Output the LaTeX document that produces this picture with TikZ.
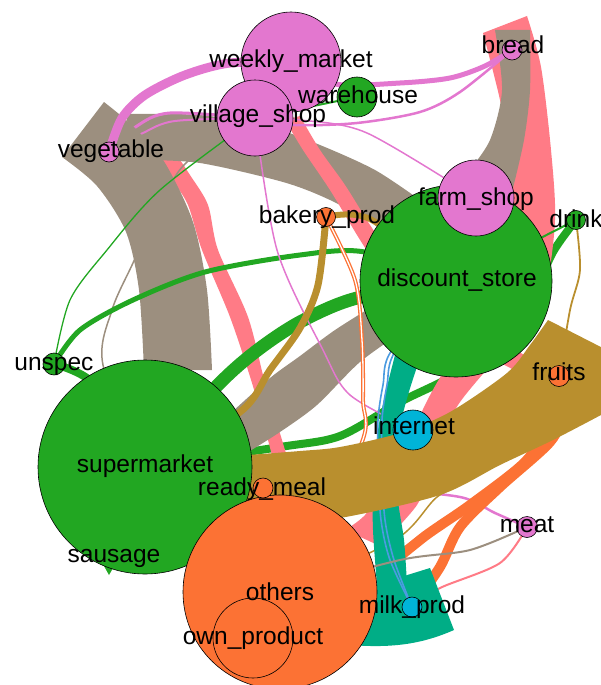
\documentclass[tikz,border=0pt]{standalone}
\usepackage{fontspec}
\setmainfont{Liberation Sans}
\definecolor{cgreen}{HTML}{22A722}
\definecolor{cpink}{HTML}{E377CF}
\definecolor{cgray}{HTML}{9C8F7F}
\definecolor{csalmon}{HTML}{FF7B86}
\definecolor{cgold}{HTML}{B98F2E}
\definecolor{corange}{HTML}{FC7234}
\definecolor{cteal}{HTML}{00AD86}
\definecolor{ccyan}{HTML}{00B4D8}
\definecolor{cblue}{HTML}{4B9BE0}
\pgfdeclarelayer{edges}
\pgfdeclarelayer{labels}
\pgfsetlayers{edges,main,labels}
\begin{document}
\begin{tikzpicture}[x=1pt,y=-1pt,
  vtx/.style={circle,draw=black,line width=0.6pt,inner sep=0pt},
  lbl/.style={anchor=base,inner sep=0pt,font=\fontsize{24.5}{28}\selectfont},
  every plot/.style={smooth}]
\useasboundingbox (0,0) rectangle (601,685);
% ---------- vertices ----------
\node[vtx,fill=cgreen,minimum size=20pt] (sausage) at (114,556) {};
\node[vtx,fill=cgreen,minimum size=214pt] (supermarket) at (145,467) {};
\node[vtx,fill=corange,minimum size=194pt] (others) at (280,592) {};
\node[vtx,fill=corange,minimum size=80pt] (ownproduct) at (253,638) {};
\node[vtx,fill=corange,minimum size=20pt] (readymeal) at (263,488) {};
\node[vtx,fill=cgreen,minimum size=192pt] (discount) at (456,281) {};
\node[vtx,fill=cpink,minimum size=76pt] (farmshop) at (476,198) {};
\node[vtx,fill=cpink,minimum size=100pt] (weekly) at (291,62) {};
\node[vtx,fill=cpink,minimum size=76pt] (village) at (255,118) {};
\node[vtx,fill=cgreen,minimum size=40pt] (warehouse) at (357,97) {};
\node[vtx,fill=cpink,minimum size=20pt] (bread) at (512,50) {};
\node[vtx,fill=cpink,minimum size=20pt] (vegetable) at (109,152) {};
\node[vtx,fill=corange,minimum size=19pt] (bakery) at (326,217) {};
\node[vtx,fill=cgreen,minimum size=19pt] (drink) at (576,220) {};
\node[vtx,fill=cgreen,minimum size=22pt] (unspec) at (54,364) {};
\node[vtx,fill=corange,minimum size=21pt] (fruits) at (559,376) {};
\node[vtx,fill=ccyan,minimum size=40pt] (internet) at (413,430) {};
\node[vtx,fill=cpink,minimum size=21pt] (meat) at (527,527) {};
\node[vtx,fill=ccyan,minimum size=20pt] (milkprod) at (412,607) {};
% ---------- edges ----------
\begin{pgfonlayer}{edges}
% drink -> supermarket
\draw[cgreen,line width=8pt] plot coordinates {(drink.center) (553,252) (528,305) (490,352) (445,380) (400,402) (340,436) (280,447) (supermarket.center)};
% bread -> others (salmon)
\fill[csalmon] plot coordinates {(483,33) (500,100) (510,160) (512,220) (502,285) (475,335) (445,370) (425,405) (410,440) (390,480) (365,515) (345,530)} -- plot coordinates {(380,546) (417,505) (430,470) (443,435) (458,405) (482,375) (518,335) (545,290) (555,220) (551,150) (541,67) (527,16)} -- cycle;
% salmon left
\fill[csalmon] plot coordinates {(150,150) (172,180) (188,205) (202,250) (230,317) (252,383) (268,440) (278,480)} -- plot coordinates {(294,480) (282,440) (265,383) (248,317) (218,250) (208,205) (190,175) (170,145)} -- cycle;
% vegetable -> discount (gray)
\fill[cgray] plot coordinates {(125,114) (200,115) (270,127) (320,145) (375,170) (420,200)} -- plot coordinates {(395,245) (375,225) (330,200) (283,182) (200,163) (140,160)} -- cycle;
% village -> vegetable
\draw[cpink,line width=3pt] plot coordinates {(vegetable.center) (137,126) (170,113) (village.center)};
\draw[cpink,line width=2pt] plot coordinates {(vegetable.center) (143,133) (175,121) (village.center)};
% vegetable -> supermarket (gray)
\fill[cgray] plot coordinates {(62,157) (97,186) (126,232) (139,290) (144,370)} -- plot coordinates {(212,370) (207,290) (193,222) (165,163) (135,128) (104,102)} -- cycle;
% bread -> farm_shop (gray)
\fill[cgray] plot coordinates {(495,30) (502,90) (490,140) (468,172)} -- plot coordinates {(512,192) (524,140) (530,90) (530,30)} -- cycle;
% discount -> supermarket (gray)
\fill[cgray] plot coordinates {(232,412) (270,378) (300,356) (335,330) (378,303)} -- plot coordinates {(405,330) (360,362) (317,405) (280,432) (245,454)} -- cycle;
% thin gray
\draw[cgray,line width=1.5pt] plot coordinates {(supermarket.center) (103,365) (112,310) (133,263) (160,205) (187,162) (village.center)};
% village -> discount (salmon)
\fill[csalmon] plot coordinates {(285,120) (303,150) (330,190) (357,235) (378,268)} -- plot coordinates {(393,258) (370,225) (345,185) (320,150) (300,116)} -- cycle;
% discount -> fruits
\fill[csalmon] plot coordinates {(500,340) (530,358) (558,367)} -- plot coordinates {(558,385) (525,375) (495,360)} -- cycle;
% greens
\draw[cgreen,line width=13pt] plot coordinates {(supermarket.center) (215,388) (255,352) (300,322) (357,298) (discount.center)};
\draw[cgreen,line width=5pt] plot coordinates {(unspec.center) (80,330) (133,300) (205,272) (300,255) (365,252) (discount.center)};
\draw[cgreen,line width=1.3pt] plot coordinates {(unspec.center) (70,300) (107,250) (160,190) (village.center)};
\draw[cgreen,line width=8pt] plot coordinates {(unspec.center) (95,385) (supermarket.center)};
\draw[cgreen,line width=2pt] (warehouse.center) -- (village.center);
\draw[cgreen,line width=2pt] (drink.center) -- (discount.center);
\fill[cgreen] (104,566) -- (116,563) -- (109,575) -- cycle;
% pinks
\draw[cpink,line width=9pt] plot coordinates {(vegetable.center) (122,118) (145,95) (185,75) (230,63) (weekly.center)};
\draw[cpink,line width=5pt] plot coordinates {(weekly.center) (335,84) (400,83) (450,78) (485,66) (bread.center)};
\draw[cpink,line width=2.5pt] plot coordinates {(village.center) (295,125) (357,123) (420,112) (460,92) (bread.center)};
\draw[cpink,line width=1.5pt] plot coordinates {(village.center) (300,120) (367,133) (farmshop.center)};
\draw[cpink,line width=1.5pt] plot coordinates {(village.center) (277,250) (323,350) (350,395) (internet.center)};
\draw[cpink,line width=2.5pt] plot coordinates {(meat.center) (495,513) (460,497) (380,490) (readymeal.center)};
% thin golds
\draw[cgold,line width=7pt] plot coordinates {(bakery.center) (318,285) (300,328) (270,370) (240,412) (supermarket.center)};
\draw[cgold,line width=1.8pt] plot coordinates {(drink.center) (580,270) (570,310) (fruits.center)};
\draw[cgold,line width=6pt] plot coordinates {(bakery.center) (370,219) (discount.center)};
\draw[cgold,line width=1.5pt] plot coordinates {(fruits.center) (480,470) (437,497) (395,540) (others.center)};
% oranges
\draw[corange,double=white,double distance=1.3pt,line width=1.3pt] plot coordinates {(bakery.center) (355,280) (362,340) (363,400) (360,447) (others.center)};
\draw[corange,line width=10pt] plot coordinates {(fruits.center) (563,412) (550,442) (500,487) (460,527) (440,567) (milkprod.center)};
\draw[corange,line width=10pt] plot coordinates {(fruits.center) (548,425) (525,462) (470,505) (420,540) (385,575) (milkprod.center)};
% meat -> milk_prod
\draw[csalmon,line width=2pt] plot coordinates {(meat.center) (500,563) (440,588) (milkprod.center)};
% teal
\fill[cteal] plot coordinates {(395,355) (385,395) (378,430) (373,480) (373,530) (377,585)} -- plot coordinates {(407,585) (404,540) (397,490) (400,430) (408,395) (420,358)} -- cycle;
\fill[cteal] (375,585) -- (430,568) -- (454,630) .. controls (420,645) and (390,648) .. (350,645) -- (340,600) -- cycle;
% blue
\draw[cblue,line width=1.6pt] plot coordinates {(discount.center) (392,350) (383,385) (378,420) (378,470) (381,520) (390,560) (milkprod.center)};
\draw[cblue,line width=1.6pt] plot coordinates {(discount.center) (396,350) (387,385) (382,420) (382,470) (385,520) (394,560) (milkprod.center)};
% big gold fruits -> supermarket
\fill[cgold] plot coordinates {(235,456) (300,451) (340,447) (400,433) (450,412) (507,373) (530,345) (548,320)} -- (640,367) -- (640,395) -- plot coordinates {(601,415) (553,440) (500,465) (440,495) (340,518) (280,522) (235,515)} -- cycle;
% meat -> others
\draw[cgray,line width=2pt] plot coordinates {(meat.center) (470,550) (400,560) (others.center)};
\end{pgfonlayer}
% ---------- labels ----------
\begin{pgfonlayer}{labels}
\node[lbl] (t1) at (291,67) {weekly\_market};
\node[lbl] (t2) at (258,122) {village\_shop};
\node[lbl] (t3) at (358,103) {warehouse};
\node[lbl] (t4) at (513,53) {bread};
\node[lbl] (t5) at (111,157) {vegetable};
\node[lbl] (t6) at (476,205) {farm\_shop};
\node[lbl] (t7) at (327,223) {bakery\_prod};
\node[lbl] (t8) at (576,227) {drink};
\node[lbl] (t9) at (457,286) {discount\_store};
\node[lbl] (t10) at (54,370) {unspec};
\node[lbl] (t11) at (559,380) {fruits};
\node[lbl] (t12) at (414,434) {internet};
\node[lbl] (t13) at (145,472) {supermarket};
\node[lbl] (t14) at (262,495) {ready\_meal};
\node[lbl] (t15) at (527,532) {meat};
\node[lbl] (t16) at (114,562) {sausage};
\node[lbl] (t17) at (280,600) {others};
\node[lbl] (t18) at (253,644) {own\_product};
\node[lbl] (t19) at (412,613) {milk\_prod};
\end{pgfonlayer}
\end{tikzpicture}
\end{document}
